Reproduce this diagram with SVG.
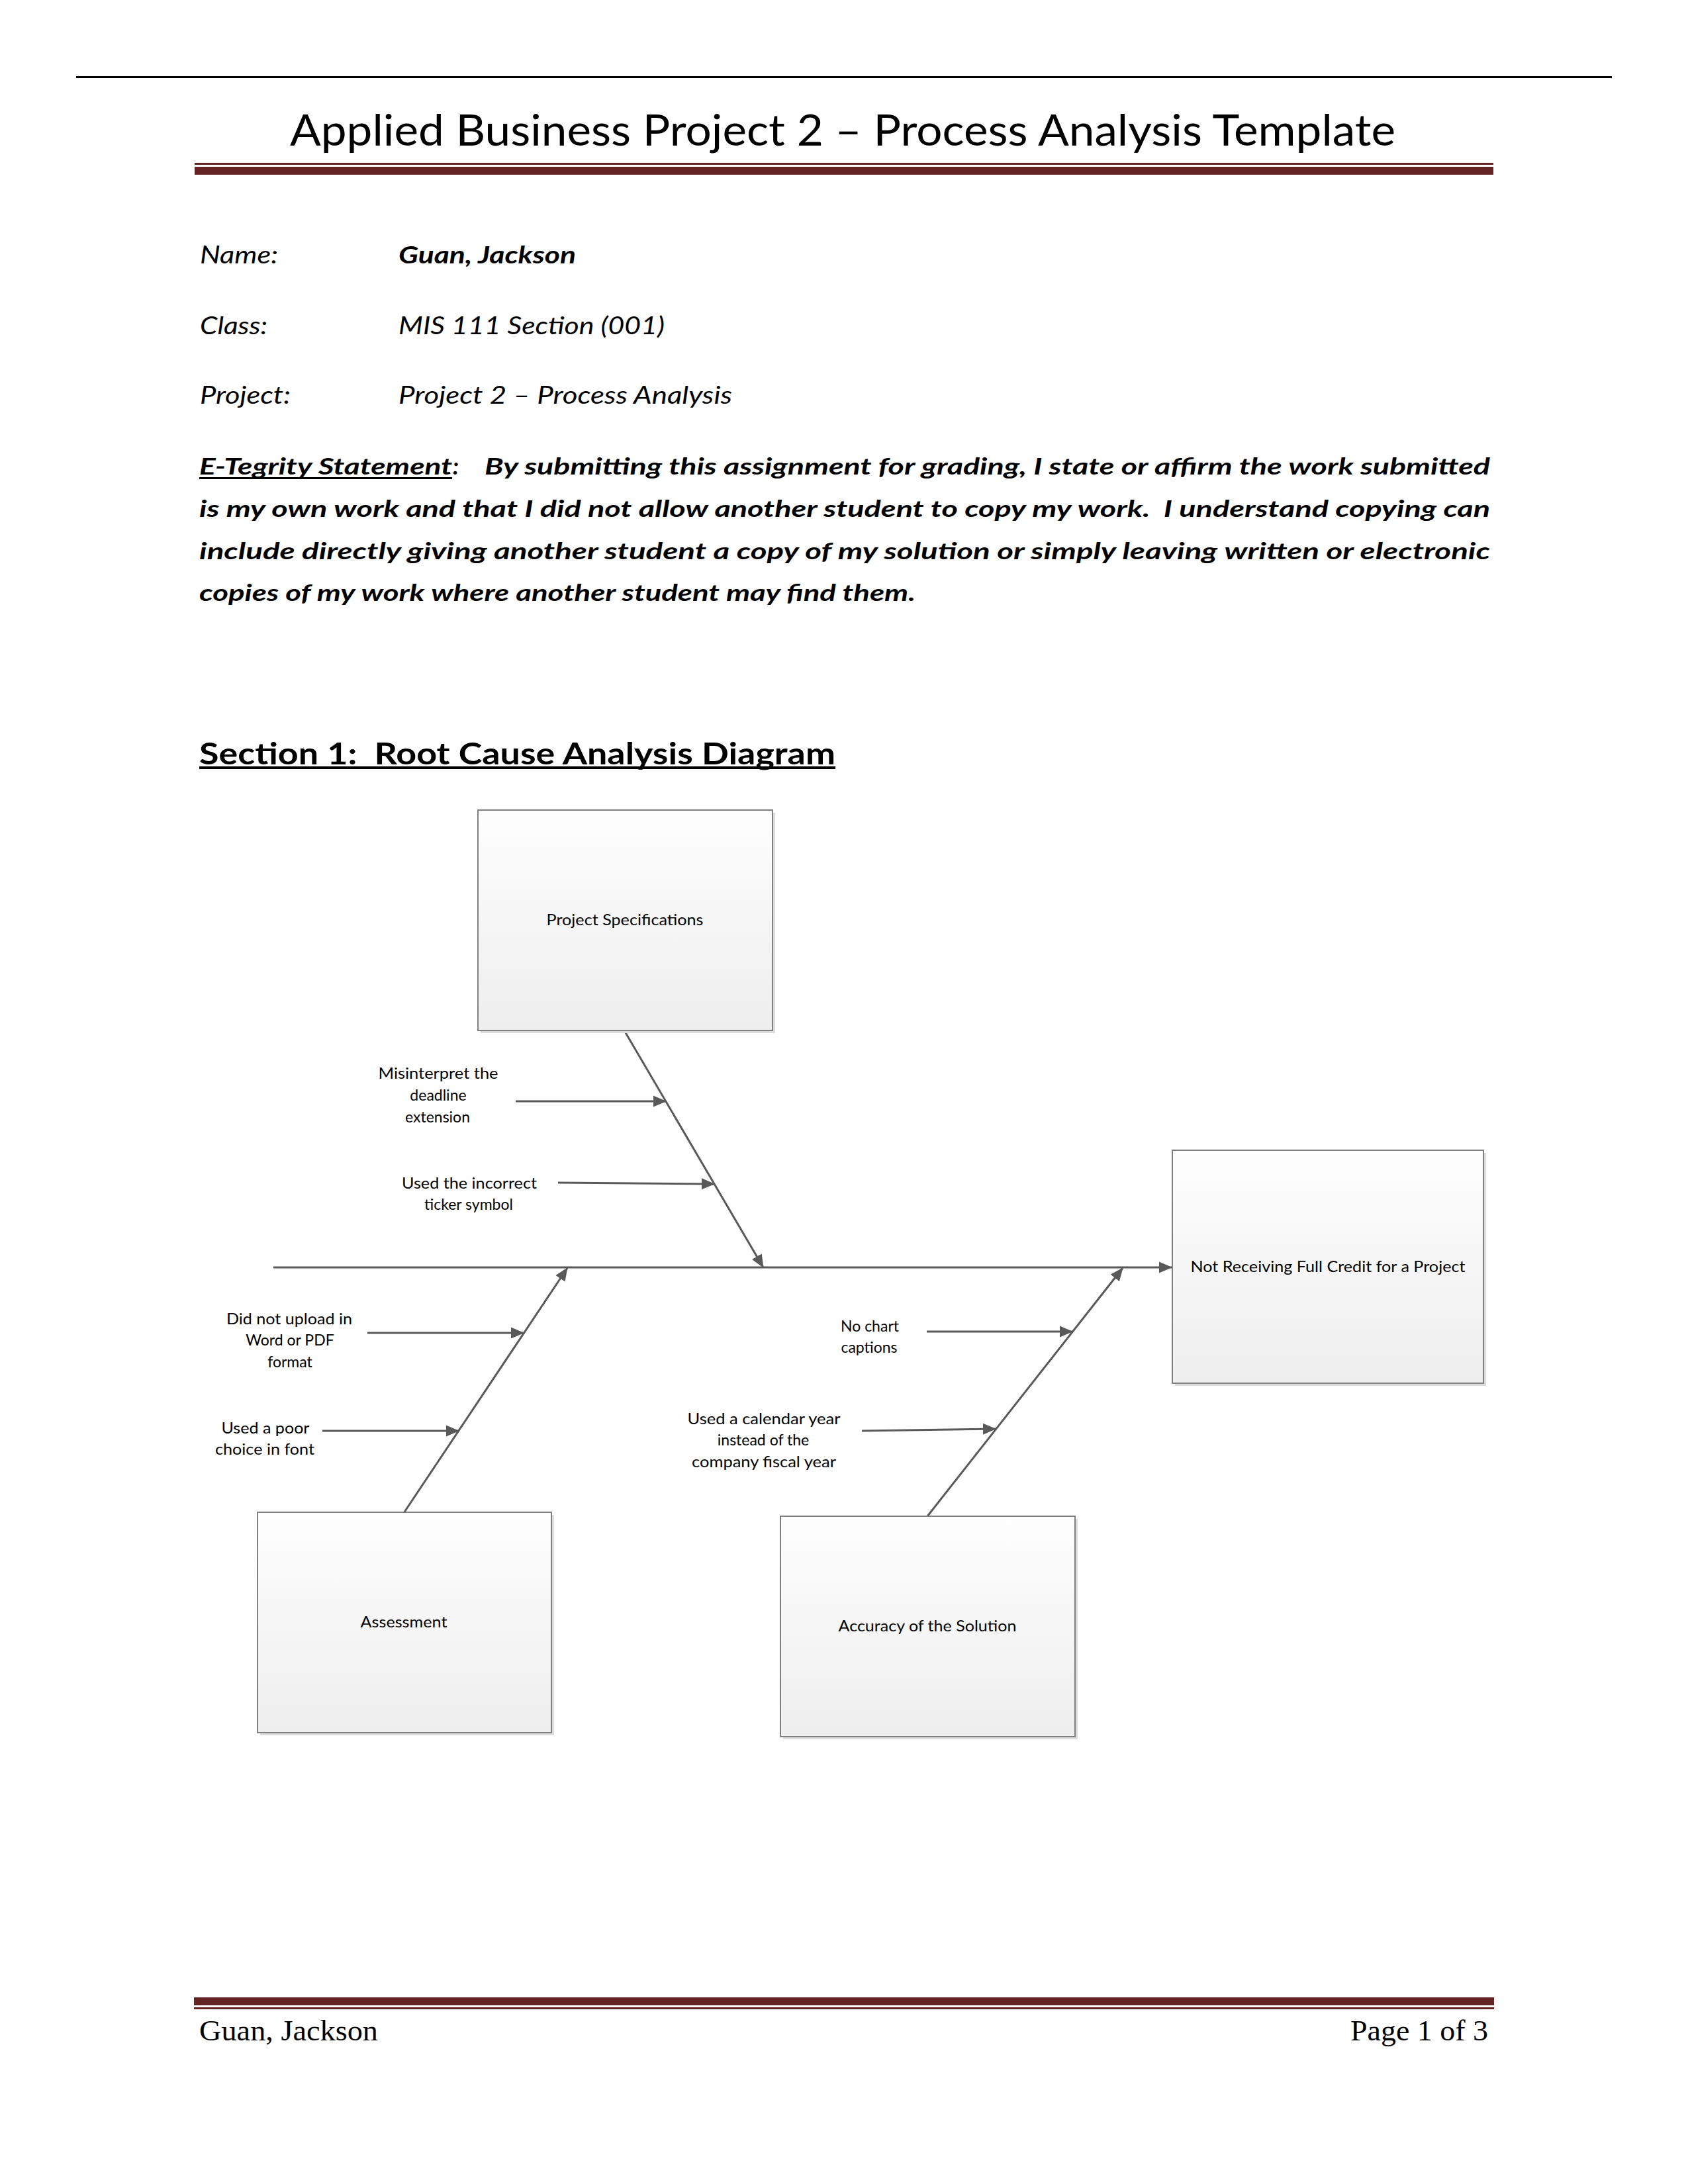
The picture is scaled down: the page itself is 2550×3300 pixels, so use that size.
<svg xmlns="http://www.w3.org/2000/svg" width="2550" height="3300" viewBox="0 0 2550 3300">
<style>
text{white-space:pre}
.body{font-family:Lato,"Open Sans","Liberation Sans",sans-serif;fill:#000}
.title{font-family:Lato,"Open Sans","Liberation Sans",sans-serif;font-size:66px;font-weight:normal;fill:#000}
.lbl{font-family:Lato,"Open Sans","Liberation Sans",sans-serif;font-size:23px;fill:#000;text-anchor:middle}
.foot{font-family:"Liberation Serif",serif;font-size:45px;fill:#000}
.box{fill:url(#boxg);stroke:#808080;stroke-width:2}
.shadow{fill:#dcdcdc}
.bone{stroke:#595959;stroke-width:3;fill:none;marker-end:url(#arr)}
.rule{fill:#632423}
</style>
<defs>
<linearGradient id="boxg" x1="0" y1="0" x2="0" y2="1">
<stop offset="0" stop-color="#fefefe"/>
<stop offset="1" stop-color="#eeeeee"/>
</linearGradient>
<marker id="arr" markerUnits="userSpaceOnUse" markerWidth="22" markerHeight="18" refX="19" refY="8.5" orient="auto" viewBox="0 0 22 17">
<path d="M0,0 L20,8.5 L0,17 z" fill="#595959"/>
</marker>
</defs>
<rect width="2550" height="3300" fill="#fff"/>

<g id="header">
<rect x="115" y="115" width="2320" height="3" fill="#000"/>
<text class="title" x="438" y="220" textLength="1670" lengthAdjust="spacingAndGlyphs">Applied Business Project 2 – Process Analysis Template</text>
<rect class="rule" x="294" y="246" width="1962" height="3"/>
<rect class="rule" x="294" y="252" width="1962" height="12"/>
</g>

<g id="info" class="body" font-size="36" font-style="italic">
<text x="302" y="398" textLength="118" lengthAdjust="spacingAndGlyphs">Name:</text>
<text x="602" y="398" font-weight="bold" textLength="268" lengthAdjust="spacingAndGlyphs">Guan, Jackson</text>
<text x="302" y="505" textLength="102" lengthAdjust="spacingAndGlyphs">Class:</text>
<text x="602" y="505" textLength="402" lengthAdjust="spacingAndGlyphs">MIS 111 Section (001)</text>
<text x="302" y="610" textLength="137" lengthAdjust="spacingAndGlyphs">Project:</text>
<text x="602" y="610" textLength="504" lengthAdjust="spacingAndGlyphs">Project 2 – Process Analysis</text>
</g>

<g id="statement" class="body" font-size="35" font-style="italic" font-weight="bold">
<text x="301" y="717" textLength="382" lengthAdjust="spacingAndGlyphs">E-Tegrity Statement</text>
<rect x="301" y="721" width="382" height="3" fill="#000"/>
<text x="684" y="717">:</text>
<text x="732" y="717" textLength="1519" lengthAdjust="spacingAndGlyphs">By submitting this assignment for grading, I state or affirm the work submitted</text>
<text x="301" y="781" textLength="1950" lengthAdjust="spacingAndGlyphs">is my own work and that I did not allow another student to copy my work.  I understand copying can</text>
<text x="301" y="845" textLength="1950" lengthAdjust="spacingAndGlyphs">include directly giving another student a copy of my solution or simply leaving written or electronic</text>
<text x="301" y="908" textLength="1082" lengthAdjust="spacingAndGlyphs">copies of my work where another student may find them.</text>
</g>

<g id="section-heading" class="body" font-size="46" font-weight="bold">
<text x="301" y="1155" textLength="961" lengthAdjust="spacingAndGlyphs">Section 1:  Root Cause Analysis Diagram</text>
<rect x="301" y="1158" width="961" height="4" fill="#000"/>
</g>

<g id="connectors">
<line class="bone" x1="413" y1="1915" x2="1770" y2="1915"/>
<line class="bone" x1="943" y1="1557" x2="1153" y2="1915"/>
<line class="bone" x1="610" y1="2286" x2="857" y2="1916"/>
<line class="bone" x1="1401" y1="2291" x2="1696" y2="1916"/>
<line class="bone" x1="779" y1="1664" x2="1006" y2="1664"/>
<line class="bone" x1="843" y1="1787" x2="1079" y2="1789"/>
<line class="bone" x1="555" y1="2014" x2="791" y2="2014"/>
<line class="bone" x1="487" y1="2162" x2="693" y2="2162"/>
<line class="bone" x1="1400" y1="2012" x2="1620" y2="2012"/>
<line class="bone" x1="1302" y1="2162" x2="1504" y2="2159"/>
</g>

<g id="node-project-specifications">
<rect class="shadow" x="726" y="1228" width="445" height="333"/>
<rect class="box" x="722" y="1224" width="445" height="333"/>
<text class="lbl" x="944" y="1398" textLength="237" lengthAdjust="spacingAndGlyphs">Project Specifications</text>
</g>

<g id="node-effect">
<rect class="shadow" x="1775" y="1742" width="470" height="352"/>
<rect class="box" x="1771" y="1738" width="470" height="352"/>
<text class="lbl" x="2006" y="1922" textLength="415" lengthAdjust="spacingAndGlyphs">Not Receiving Full Credit for a Project</text>
</g>

<g id="node-assessment">
<rect class="shadow" x="393" y="2289" width="444" height="333"/>
<rect class="box" x="389" y="2285" width="444" height="333"/>
<text class="lbl" x="610" y="2459" textLength="131" lengthAdjust="spacingAndGlyphs">Assessment</text>
</g>

<g id="node-accuracy">
<rect class="shadow" x="1183" y="2295" width="445" height="333"/>
<rect class="box" x="1179" y="2291" width="445" height="333"/>
<text class="lbl" x="1401" y="2465" textLength="269" lengthAdjust="spacingAndGlyphs">Accuracy of the Solution</text>
</g>

<g id="cause-misinterpret">
<text class="lbl" x="662" y="1630" textLength="181" lengthAdjust="spacingAndGlyphs">Misinterpret the</text>
<text class="lbl" x="662" y="1663">deadline</text>
<text class="lbl" x="661" y="1696">extension</text>
</g>

<g id="cause-ticker">
<text class="lbl" x="709" y="1796" textLength="204" lengthAdjust="spacingAndGlyphs">Used the incorrect</text>
<text class="lbl" x="708" y="1828">ticker symbol</text>
</g>

<g id="cause-upload">
<text class="lbl" x="437" y="2001" textLength="190" lengthAdjust="spacingAndGlyphs">Did not upload in</text>
<text class="lbl" x="438" y="2033">Word or PDF</text>
<text class="lbl" x="438" y="2066">format</text>
</g>

<g id="cause-font">
<text class="lbl" x="401" y="2166" textLength="133" lengthAdjust="spacingAndGlyphs">Used a poor</text>
<text class="lbl" x="400" y="2198" textLength="150" lengthAdjust="spacingAndGlyphs">choice in font</text>
</g>

<g id="cause-captions">
<text class="lbl" x="1314" y="2012">No chart</text>
<text class="lbl" x="1313" y="2044">captions</text>
</g>

<g id="cause-fiscal">
<text class="lbl" x="1154" y="2152" textLength="231" lengthAdjust="spacingAndGlyphs">Used a calendar year</text>
<text class="lbl" x="1153" y="2184">instead of the</text>
<text class="lbl" x="1154" y="2217" textLength="218" lengthAdjust="spacingAndGlyphs">company fiscal year</text>
</g>

<g id="footer">
<rect class="rule" x="293" y="3018" width="1964" height="12"/>
<rect class="rule" x="293" y="3033" width="1964" height="3"/>
<text class="foot" x="301" y="3083" textLength="270" lengthAdjust="spacingAndGlyphs">Guan, Jackson</text>
<text class="foot" x="2248" y="3083" text-anchor="end" textLength="208" lengthAdjust="spacingAndGlyphs">Page 1 of 3</text>
</g>
</svg>
